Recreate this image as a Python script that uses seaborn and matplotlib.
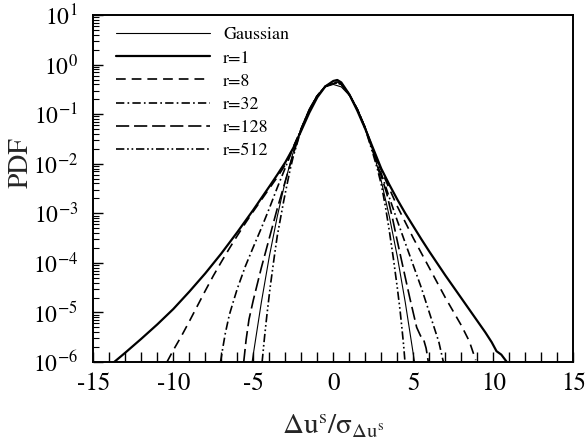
import numpy as np
import pandas as pd
import matplotlib
matplotlib.use("Agg")
import matplotlib.pyplot as plt
import seaborn as sns

# ---- data (x, log10 PDF) ----
gauss_x = [-5.1, -4.5, -4.0, -3.5, -3.0, -2.5, -2.0, -1.5, -1.0, -0.5, 0.0, 0.5, 1.0, 1.5, 2.0, 2.5, 3.0, 3.5, 4.0, 4.5, 5.1]
gauss_lp = [-6.05, -4.80, -3.87, -3.06, -2.35, -1.76, -1.27, -0.89, -0.62, -0.45, -0.40, -0.45, -0.62, -0.89, -1.27, -1.76, -2.35, -3.06, -3.87, -4.80, -6.05]

r1_x = [-13.7, -13, -12, -11, -10, -9, -8, -7, -6, -5, -4, -3.5, -3, -2.5, -2, -1.5, -1, -0.5, 0, 0.25, 0.5, 1, 1.5, 2, 2.5, 3, 3.5, 4, 4.5, 5, 5.5, 6, 6.5, 7, 7.5, 8, 8.5, 9, 9.5, 9.9, 10.2, 10.5, 10.85]
r1_lp = [-6.0, -5.81, -5.53, -5.24, -4.93, -4.58, -4.21, -3.81, -3.38, -2.93, -2.46, -2.22, -1.97, -1.68, -1.33, -0.97, -0.66, -0.44, -0.33, -0.31, -0.36, -0.6, -0.93, -1.3, -1.7, -2.1, -2.42, -2.72, -3.0, -3.26, -3.52, -3.77, -4.01, -4.25, -4.48, -4.71, -4.94, -5.17, -5.4, -5.6, -5.78, -5.85, -6.0]

r8_x = [-10.4, -10.2, -10, -9.5, -9, -8.5, -8, -7.5, -7, -6.5, -6, -5.5, -5, -4.5, -4, -3.5, -3, -2.5, -2, -1.5, -1, -0.5, 0, 0.25, 0.5, 1, 1.5, 2, 2.5, 3, 3.5, 4, 4.5, 5, 5.5, 6, 6.5, 7, 7.5, 8, 8.5, 8.9]
r8_lp = [-6.0, -5.88, -5.76, -5.48, -5.18, -4.87, -4.56, -4.26, -3.98, -3.71, -3.45, -3.2, -2.96, -2.73, -2.5, -2.27, -2.02, -1.66, -1.3, -0.93, -0.63, -0.44, -0.36, -0.35, -0.39, -0.6, -0.9, -1.28, -1.72, -2.13, -2.5, -2.86, -3.18, -3.5, -3.8, -4.1, -4.4, -4.7, -4.98, -5.26, -5.58, -5.96]

r32_x = [-7.05, -6.9, -6.75, -6.5, -6.25, -6, -5.5, -5, -4.5, -4, -3.5, -3, -2.5, -2, -1.5, -1, -0.5, 0, 0.25, 0.5, 1, 1.5, 2, 2.5, 3, 3.5, 4, 4.5, 5, 5.5, 6, 6.3, 6.6, 6.88]
r32_lp = [-6.0, -5.7, -5.42, -5.05, -4.78, -4.52, -4.07, -3.68, -3.3, -2.9, -2.48, -2.08, -1.68, -1.29, -0.92, -0.63, -0.44, -0.37, -0.36, -0.4, -0.6, -0.9, -1.28, -1.74, -2.2, -2.68, -3.15, -3.6, -4.05, -4.5, -5.0, -5.3, -5.6, -6.0]

r128_x = [-5.6, -5.45, -5.27, -5, -4.5, -4, -3.5, -3, -2.5, -2, -1.5, -1, -0.5, 0, 0.25, 0.5, 1, 1.5, 2, 2.5, 3, 3.34, 3.7, 3.96, 4.38, 4.79, 5.21, 5.45, 5.65, 5.8, 5.94]
r128_lp = [-6.0, -5.55, -5.14, -4.75, -4.1, -3.5, -2.9, -2.35, -1.8, -1.3, -0.92, -0.63, -0.44, -0.38, -0.37, -0.4, -0.61, -0.9, -1.28, -1.78, -2.25, -2.6, -3.1, -3.5, -4.12, -4.72, -5.3, -5.47, -5.55, -5.72, -6.0]

r512_x = [-4.45, -4.3, -4.15, -3.95, -3.7, -3.5, -3.3, -3.1, -2.9, -2.7, -2.5, -2, -1.5, -1, -0.5, 0, 0.25, 0.5, 1, 1.5, 2, 2.5, 2.75, 3, 3.25, 3.5, 3.75, 4, 4.17, 4.3, 4.4, 4.48]
r512_lp = [-6.0, -5.5, -5.05, -4.5, -3.9, -3.45, -3.1, -2.75, -2.43, -2.12, -1.85, -1.3, -0.91, -0.62, -0.44, -0.38, -0.37, -0.4, -0.61, -0.9, -1.3, -1.82, -2.1, -2.42, -2.85, -3.35, -3.9, -4.5, -4.95, -5.35, -5.68, -6.0]

labels = ["Gaussian", "r=1", "r=8", "r=32", "r=128", "r=512"]
xs = [gauss_x, r1_x, r8_x, r32_x, r128_x, r512_x]
lps = [gauss_lp, r1_lp, r8_lp, r32_lp, r128_lp, r512_lp]

x_ticks = [-15, -10, -5, 0, 5, 10, 15]

# ---- styles ----
widths = [0.8, 1.6, 1.2, 1.2, 1.2, 1.2]
styles = ["-", "-", (0, (7, 4.3)), (0, (6, 2.3, 1.2, 2.3)), (0, (9.5, 3.5)), (0, (6, 2, 1.2, 2, 1.2, 2))]

sns.set_theme(style="ticks")
plt.rcParams["font.family"] = ["STIXGeneral", "DejaVu Serif"]
plt.rcParams["mathtext.fontset"] = "stix"
plt.rcParams["axes.unicode_minus"] = False
plt.rcParams["lines.scale_dashes"] = False

fig = plt.figure(figsize=(5.88, 4.47), dpi=100)
ax = fig.add_axes([0.1587, 0.190, 0.975 - 0.1587, 0.9664 - 0.190])

for lab, x, lp, w, ls in zip(labels, xs, lps, widths, styles):
    df = pd.DataFrame({"x": x, "pdf": np.power(10.0, lp)})
    sns.lineplot(data=df, x="x", y="pdf", ax=ax, color="black", linewidth=w,
                 linestyle=ls, label=lab, errorbar=None, sort=False)

ax.set_yscale("log")
ax.set_xlim(-15, 15)
ax.set_ylim(1e-6, 10)
ax.set_xticks(x_ticks)
ax.set_xticklabels([str(t) for t in x_ticks])
ax.xaxis.set_minor_locator(matplotlib.ticker.MultipleLocator(1))
ax.yaxis.set_major_locator(matplotlib.ticker.LogLocator(base=10, numticks=20))
ax.yaxis.set_minor_locator(matplotlib.ticker.LogLocator(base=10, subs=np.arange(2, 10), numticks=20))
ax.yaxis.set_minor_formatter(matplotlib.ticker.NullFormatter())

ax.tick_params(axis="both", which="both", direction="in", colors="black", top=False, right=False)
ax.tick_params(axis="x", which="major", length=7, width=1.0, labelsize=18, pad=7)
ax.tick_params(axis="x", which="minor", length=7, width=1.0)
ax.tick_params(axis="y", which="major", length=7, width=1.0, labelsize=17, pad=11)
ax.tick_params(axis="y", which="minor", length=4.5, width=0.8)
for s in ax.spines.values():
    s.set_color("black")
    s.set_linewidth(1.4)

ax.set_xlabel(r"$\mathrm{\Delta u^{s}/\sigma_{\Delta u^{s}}}$", fontsize=21, labelpad=12)
ax.set_ylabel("PDF", fontsize=20)
ax.yaxis.set_label_coords(-0.124, 0.576)

leg = ax.legend(loc="upper left", bbox_to_anchor=(0.047, 0.966), frameon=False,
                fontsize=13, handlelength=5.2, handletextpad=0.75,
                labelspacing=0.36, borderpad=0, borderaxespad=0)
for t in leg.get_texts():
    t.set_color("black")

fig.savefig("out.png", dpi=100)
